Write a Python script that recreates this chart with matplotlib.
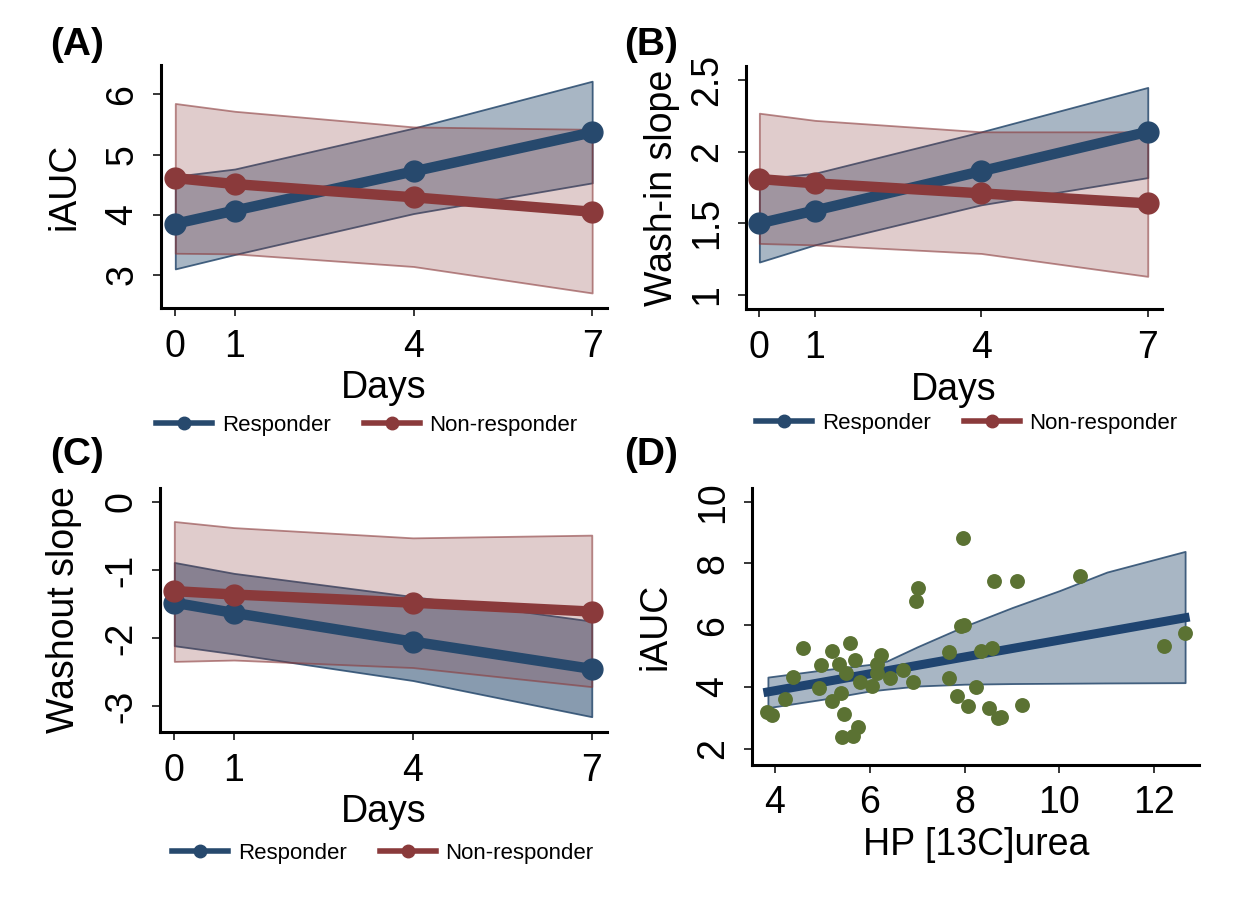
import numpy as np
import matplotlib
matplotlib.use('Agg')
import matplotlib.pyplot as plt
from matplotlib.lines import Line2D

plt.rcParams['font.family'] = ['Liberation Sans', 'DejaVu Sans']

days = [0, 1, 4, 7]

# (A) iAUC over time
resp_auc = [3.85, 4.07, 4.72, 5.37]
resp_auc_lo = [3.10, 3.34, 4.02, 4.53]
resp_auc_hi = [4.64, 4.76, 5.44, 6.22]
non_auc = [4.61, 4.51, 4.29, 4.05]
non_auc_lo = [3.36, 3.35, 3.14, 2.70]
non_auc_hi = [5.85, 5.72, 5.46, 5.42]

# (B) wash-in slope over time
resp_win = [1.50, 1.59, 1.865, 2.14]
resp_win_lo = [1.23, 1.35, 1.63, 1.82]
resp_win_hi = [1.81, 1.85, 2.14, 2.45]
non_win = [1.81, 1.78, 1.71, 1.64]
non_win_lo = [1.36, 1.35, 1.29, 1.13]
non_win_hi = [2.27, 2.22, 2.14, 2.14]

# (C) washout slope over time
resp_wout = [-1.48, -1.63, -2.05, -2.45]
resp_wout_lo = [-2.11, -2.23, -2.62, -3.15]
resp_wout_hi = [-0.89, -1.05, -1.39, -1.75]
non_wout = [-1.31, -1.36, -1.48, -1.61]
non_wout_lo = [-2.34, -2.32, -2.43, -2.71]
non_wout_hi = [-0.29, -0.38, -0.53, -0.49]

# (D) iAUC vs HP [13C]urea
urea = [7.96, 7.01, 6.97, 8.61, 9.11, 10.44, 7.93, 7.99, 12.65, 12.20,
        4.60, 5.21, 5.58, 5.68, 4.97, 5.35, 5.49, 4.37, 6.23, 6.15,
        6.15, 6.42, 6.70, 6.92, 6.04, 5.80, 4.92, 4.21, 5.39, 5.20,
        5.46, 5.74, 5.41, 5.64, 3.84, 3.93, 7.66, 7.66, 8.35, 8.58,
        8.23, 7.84, 8.07, 8.51, 8.70, 8.77, 9.21]
auc = [8.82, 7.20, 6.77, 7.44, 7.44, 7.58, 5.99, 6.02, 5.75, 5.32,
       5.27, 5.16, 5.43, 4.87, 4.71, 4.76, 4.44, 4.33, 5.02, 4.73,
       4.46, 4.30, 4.54, 4.17, 4.03, 4.16, 3.98, 3.60, 3.81, 3.55,
       3.14, 2.71, 2.39, 2.42, 3.19, 3.09, 5.13, 4.28, 5.16, 5.27,
       4.00, 3.71, 3.37, 3.33, 2.98, 3.03, 3.43]
fit_x = [3.85, 12.65]
fit_y = [3.84, 6.24]
ci_x = [3.85, 5, 6, 6.36, 7, 8, 9, 10, 11, 12.65]
ci_lo = [3.33, 3.60, 3.87, 3.93, 4.03, 4.09, 4.11, 4.12, 4.13, 4.14]
ci_hi = [4.32, 4.55, 4.73, 4.84, 5.30, 5.97, 6.57, 7.12, 7.72, 8.39]

blue = '#27496d'
red = '#8a3a3b'
green = '#5b7233'
FS = 27

fig = plt.figure(figsize=(12.44, 9.11), dpi=100)


def style(ax):
    for s in ['top', 'right']:
        ax.spines[s].set_visible(False)
    for s in ['left', 'bottom']:
        ax.spines[s].set_linewidth(2.2)
    ax.tick_params(labelsize=FS, length=6, width=1.1, pad=9)
    for t in ax.get_yticklabels():
        t.set_rotation(90)
        t.set_va('center')


def time_panel(rect, r, rlo, rhi, n, nlo, nhi, ylim, yticks, yticklabels,
               ylabel, lab_x, blue_alpha=0.4):
    ax = fig.add_axes(rect)
    ax.fill_between(days, rlo, rhi, facecolor=matplotlib.colors.to_rgba(blue, blue_alpha),
                    edgecolor=matplotlib.colors.to_rgba(blue, 0.85), lw=1.3)
    ax.fill_between(days, nlo, nhi, facecolor=matplotlib.colors.to_rgba(red, 0.26),
                    edgecolor=matplotlib.colors.to_rgba(red, 0.6), lw=1.3)
    ax.plot(days, r, color=blue, lw=7.5, marker='o', ms=15, solid_capstyle='round')
    ax.plot(days, n, color=red, lw=7.5, marker='o', ms=15, solid_capstyle='round')
    ax.set_xlim(-0.24, 7.25)
    ax.set_ylim(*ylim)
    ax.set_xticks(days)
    ax.set_yticks(yticks)
    ax.set_yticklabels(yticklabels)
    ax.set_xlabel('Days', fontsize=FS, labelpad=4)
    ax.set_ylabel(ylabel, fontsize=FS)
    ax.yaxis.set_label_coords(lab_x, 0.5)
    style(ax)
    return ax


time_panel([0.1294, 0.6619, 0.3586, 0.2668], resp_auc, resp_auc_lo, resp_auc_hi,
           non_auc, non_auc_lo, non_auc_hi, (2.45, 6.49), [3, 4, 5, 6],
           ['3', '4', '5', '6'], 'iAUC', -0.177)
time_panel([0.5997, 0.6605, 0.3341, 0.2671], resp_win, resp_win_lo, resp_win_hi,
           non_win, non_win_lo, non_win_hi, (0.90, 2.60), [1, 1.5, 2, 2.5],
           ['1', '1.5', '2', '2.5'], 'Wash-in slope', -0.159)
time_panel([0.1286, 0.1968, 0.3591, 0.2675], resp_wout, resp_wout_lo, resp_wout_hi,
           non_wout, non_wout_lo, non_wout_hi, (-3.37, 0.20), [-3, -2, -1, 0],
           ['-3', '-2', '-1', '0'], 'Washout slope', -0.175, blue_alpha=0.55)

# (D) scatter with linear fit and confidence band
axd = fig.add_axes([0.6047, 0.1608, 0.3594, 0.3038])
axd.fill_between(ci_x, ci_lo, ci_hi, facecolor=matplotlib.colors.to_rgba(blue, 0.4),
                 edgecolor=matplotlib.colors.to_rgba(blue, 0.85), lw=1.3)
axd.plot(fit_x, fit_y, color='#1f4470', lw=6.5)
axd.scatter(urea, auc, s=115, color=green, zorder=3, linewidths=0)
axd.set_xlim(3.52, 12.95)
axd.set_ylim(1.49, 10.45)
axd.set_xticks([4, 6, 8, 10, 12])
axd.set_yticks([2, 4, 6, 8, 10])
axd.set_xlabel('HP [13C]urea', fontsize=FS, labelpad=4)
axd.set_ylabel('iAUC', fontsize=FS)
axd.yaxis.set_label_coords(-0.177, 0.5)
style(axd)

# panel letters
for x, y, s in [(0.040, 0.951, '(A)'), (0.502, 0.951, '(B)'),
                (0.040, 0.501, '(C)'), (0.502, 0.501, '(D)')]:
    fig.text(x, y, s, fontsize=28, fontweight='bold', va='center')

handles = [Line2D([], [], color=blue, lw=4, marker='o', ms=9),
           Line2D([], [], color=red, lw=4, marker='o', ms=9)]
names = ['Responder', 'Non-responder']
for cx, cy in [(367, 425), (967, 423), (383, 853)]:
    fig.legend(handles, names, loc='center', bbox_to_anchor=(cx / 1244, 1 - cy / 911),
               ncol=2, frameon=False, fontsize=16, handlelength=2.5,
               handletextpad=0.45, columnspacing=1.5, numpoints=1)

fig.savefig('out.png', dpi=100)
